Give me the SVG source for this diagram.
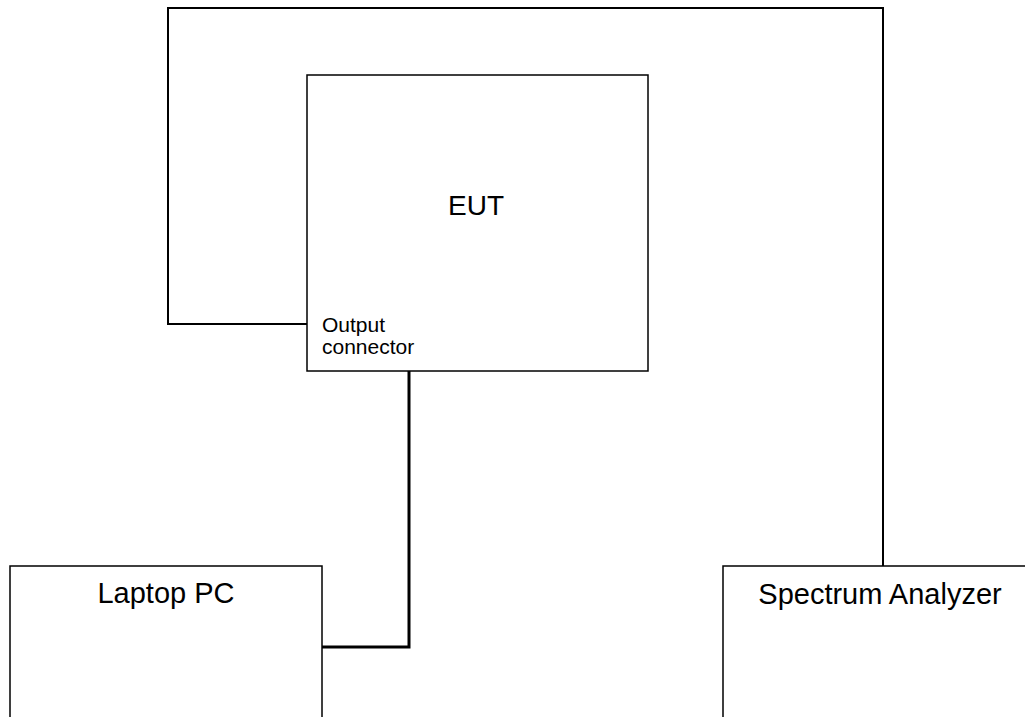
<svg xmlns="http://www.w3.org/2000/svg" width="1025" height="717" viewBox="0 0 1025 717">
<style>
.box{fill:#fff;stroke:#000;stroke-width:1.5}
.wire{fill:none;stroke:#000;stroke-width:2}
.thick{fill:none;stroke:#000;stroke-width:3}
.lbl{font-family:"Liberation Sans",Arial,sans-serif;fill:#000}
</style>
<rect width="1025" height="717" fill="#fff"/>
<g id="connectors">
<path class="wire" d="M307,324 H168 V8 H883 V566"/>
<path class="thick" d="M409,371 V647 H322"/>
</g>
<g id="eut">
<rect class="box" x="307" y="75" width="341" height="296"/>
<text class="lbl" x="476" y="215" font-size="28" text-anchor="middle">EUT</text>
<text class="lbl" x="322" y="332" font-size="21">Output</text>
<text class="lbl" x="322" y="354" font-size="21">connector</text>
</g>
<g id="laptop">
<rect class="box" x="10" y="566" width="312" height="160"/>
<text class="lbl" x="166" y="603" font-size="29" text-anchor="middle">Laptop PC</text>
</g>
<g id="analyzer">
<rect class="box" x="723" y="566" width="320" height="160"/>
<text class="lbl" x="880" y="604" font-size="29" text-anchor="middle">Spectrum Analyzer</text>
</g>
</svg>
